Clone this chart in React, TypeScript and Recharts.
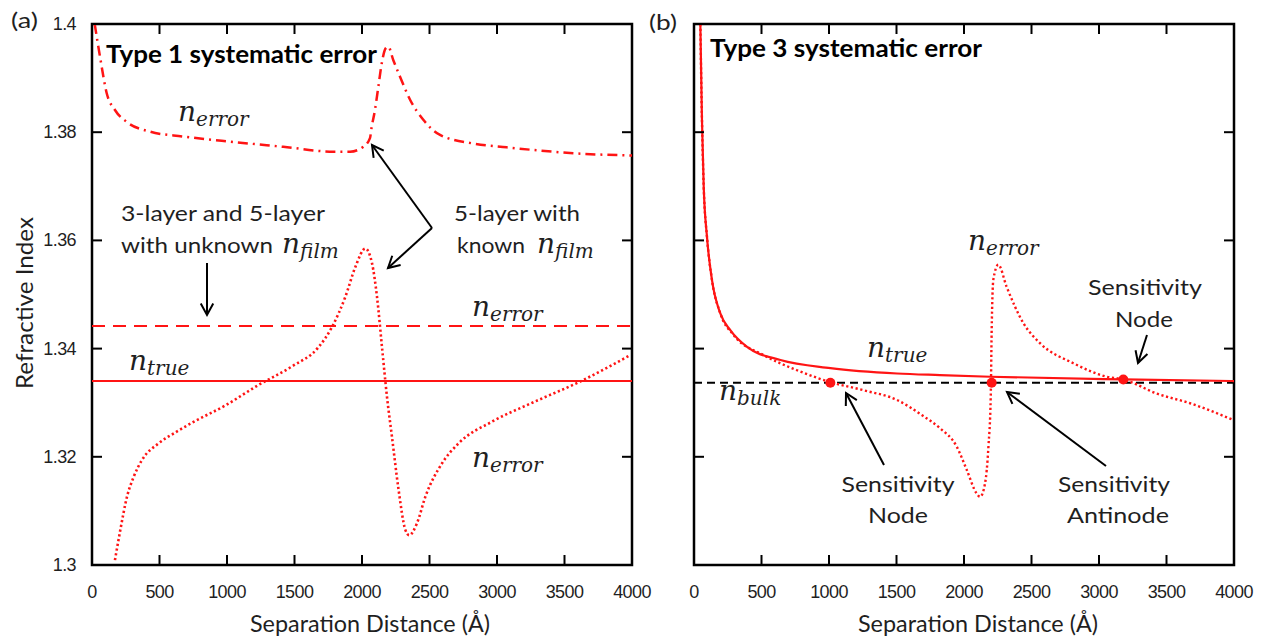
import React from "react";
import { LineChart, Line, XAxis, YAxis, ReferenceArea } from "recharts";

const X_TICKS = [0, 500, 1000, 1500, 2000, 2500, 3000, 3500, 4000];
const X_TICK_LABELS = ["0", "500", "1000", "1500", "2000", "2500", "3000", "3500", "4000"];
const Y_TICKS = [1.3, 1.32, 1.34, 1.36, 1.38, 1.4];
const Y_TICK_LABELS = ["1.3", "1.32", "1.34", "1.36", "1.38", "1.4"];

// panel (a): Type 1 systematic error
const aTrue = [[0, 1.334], [4000, 1.334]];
const aErrorUnknownFilm = [[0, 1.3442], [4000, 1.3442]];
const aErrorKnownFilmTop = [
  [20, 1.4], [59, 1.394], [109, 1.3872], [170, 1.3841], [257, 1.3819], [430, 1.3801],
  [676, 1.3792], [1047, 1.3782], [1417, 1.3773], [1788, 1.3764], [1911, 1.3764],
  [2010, 1.3773], [2059, 1.3789], [2072, 1.381], [2096, 1.3841], [2121, 1.3884],
  [2146, 1.3927], [2175, 1.3955], [2195, 1.3958], [2232, 1.3933], [2281, 1.3903],
  [2356, 1.386], [2454, 1.3823], [2578, 1.3795], [2825, 1.3779], [3072, 1.3772],
  [3319, 1.3766], [3565, 1.3761], [4000, 1.3757]
];
const aErrorKnownFilm = [
  [170, 1.3009], [210, 1.3065], [259, 1.3126], [309, 1.3163], [370, 1.3194], [494, 1.3225],
  [617, 1.3245], [741, 1.3263], [988, 1.3295], [1235, 1.3333], [1481, 1.3367], [1679, 1.3403],
  [1778, 1.344], [1877, 1.3496], [1951, 1.3551], [2025, 1.3585], [2074, 1.3558], [2111, 1.3496],
  [2148, 1.3403], [2185, 1.3311], [2222, 1.3237], [2271, 1.3139], [2321, 1.3065], [2350, 1.3055],
  [2407, 1.3077], [2469, 1.3126], [2593, 1.3188], [2716, 1.3225], [2963, 1.3265], [3244, 1.3298],
  [3615, 1.3339], [3973, 1.3386]
];

// panel (b): Type 3 systematic error
const bTrue = [
  [47, 1.4], [59, 1.3823], [72, 1.3699], [96, 1.3607], [133, 1.3527], [195, 1.3465],
  [269, 1.3434], [393, 1.3403], [640, 1.3379], [1010, 1.3364], [1504, 1.3354], [1822, 1.3351],
  [2195, 1.3348], [3180, 1.3343], [4000, 1.334]
];
const bBulk = [[0, 1.3337], [4000, 1.3337]];
const bError = [
  [47, 1.4], [59, 1.3823], [72, 1.3699], [96, 1.3607], [133, 1.3527], [195, 1.3465],
  [294, 1.3425], [516, 1.3388], [763, 1.336], [1010, 1.3338], [1257, 1.3323], [1504, 1.3305],
  [1700, 1.3275], [1822, 1.3253], [1946, 1.3219], [2020, 1.3176], [2094, 1.3132], [2119, 1.3126],
  [2156, 1.3151], [2181, 1.3219], [2198, 1.3311], [2205, 1.3434], [2217, 1.3527], [2254, 1.3555],
  [2316, 1.3514], [2440, 1.3447], [2563, 1.341], [2810, 1.3373], [3057, 1.3348], [3180, 1.3343],
  [3427, 1.3317], [3674, 1.3299], [3995, 1.3268]
];
const bNodes = [[1010, 1.3337], [2205, 1.3337], [3180, 1.3343]];

const pts = (a: number[][]) => a.map(([x, y]) => ({ x, y }));

const RED = "#ff1414";
const INK = "#1f1f1f";
const PLOT_W = 540;
const PLOT_H = 541;
const TICK_LEN = 10;
const SANS = "'Liberation Sans', Arial, sans-serif";
const TEXT = "Lato, 'Open Sans', sans-serif";
const MATH = "'DejaVu Serif', serif";

function xTick(props: any) {
  const { x, y, payload } = props;
  const label = X_TICK_LABELS[X_TICKS.indexOf(payload.value)];
  return (
    <g>
      <line x1={x} x2={x} y1={y} y2={y - TICK_LEN} stroke="#000" strokeWidth={2} />
      <line x1={x} x2={x} y1={y - PLOT_H} y2={y - PLOT_H + TICK_LEN} stroke="#000" strokeWidth={2} />
      <text x={x} y={y + 33} textAnchor="middle" fontFamily={SANS} fontSize={18} fill={INK} letterSpacing={-0.6}>
        {label}
      </text>
    </g>
  );
}

const makeYTick = (showLabel: boolean) => (props: any) => {
  const { x, y, payload } = props;
  const label = Y_TICK_LABELS[Y_TICKS.indexOf(payload.value)];
  return (
    <g>
      <line x1={x} x2={x + TICK_LEN} y1={y} y2={y} stroke="#000" strokeWidth={2} />
      <line x1={x + PLOT_W} x2={x + PLOT_W - TICK_LEN} y1={y} y2={y} stroke="#000" strokeWidth={2} />
      {showLabel && (
        <text x={x - 16} y={y + 6} textAnchor="end" fontFamily={SANS} fontSize={18} fill={INK} letterSpacing={-0.6}>
          {label}
        </text>
      )}
    </g>
  );
};

function MathN({ x, y, sub }: { x: number; y: number; sub: string }) {
  return (
    <text x={x} y={y} fontFamily={MATH} fontStyle="italic" fill={INK}>
      <tspan fontSize={28}>n</tspan>
      <tspan fontSize={20} dy={5}>{sub}</tspan>
    </text>
  );
}

function Arrow({ x1, y1, x2, y2 }: { x1: number; y1: number; x2: number; y2: number }) {
  const a = Math.atan2(y2 - y1, x2 - x1);
  const h = 13;
  const s = 0.5;
  const l = [x2 - h * Math.cos(a - s), y2 - h * Math.sin(a - s)];
  const r = [x2 - h * Math.cos(a + s), y2 - h * Math.sin(a + s)];
  return (
    <g stroke="#000" strokeWidth={2} fill="none">
      <line x1={x1} y1={y1} x2={x2} y2={y2} />
      <polyline points={`${l[0]},${l[1]} ${x2},${y2} ${r[0]},${r[1]}`} />
    </g>
  );
}

function Word({ x, y, w, children, anchor = "start", size = 22, bold = false }: any) {
  return (
    <text
      x={x}
      y={y}
      textAnchor={anchor}
      fontFamily={TEXT}
      fontSize={size}
      fontWeight={bold ? 700 : 400}
      fill={bold ? "#000" : INK}
      textLength={w}
      lengthAdjust="spacingAndGlyphs"
    >
      {children}
    </text>
  );
}

const xAxisProps = {
  type: "number" as const,
  dataKey: "x",
  domain: [0, 4000],
  ticks: X_TICKS,
  interval: 0 as const,
  allowDataOverflow: true,
  axisLine: false,
  tickLine: false,
  tickSize: 0,
  tickMargin: 0,
  height: 76,
  tick: xTick
};

const yAxisBase = {
  type: "number" as const,
  domain: [1.3, 1.4],
  ticks: Y_TICKS,
  interval: 0 as const,
  allowDataOverflow: true,
  axisLine: false,
  tickLine: false,
  tickSize: 0,
  tickMargin: 0
};

export default function App() {
  return (
    <div style={{ position: "absolute", left: 0, top: 0, width: 1267, height: 641, background: "#fff" }}>
      <div style={{ position: "absolute", left: 0, top: 0 }}>
        <LineChart width={660} height={641} margin={{ top: 24, right: 28, bottom: 0, left: 0 }}>
          <XAxis {...xAxisProps} />
          <YAxis {...yAxisBase} width={92} tick={makeYTick(true)} />
          <ReferenceArea x1={0} x2={4000} y1={1.3} y2={1.4} fill="none" fillOpacity={0} stroke="#000" strokeWidth={2.5} />
          <Line data={pts(aTrue)} dataKey="y" type="linear" stroke={RED} strokeWidth={2} dot={false} isAnimationActive={false} />
          <Line data={pts(aErrorUnknownFilm)} dataKey="y" type="linear" stroke={RED} strokeWidth={2} strokeDasharray="13 8" dot={false} isAnimationActive={false} />
          <Line data={pts(aErrorKnownFilmTop)} dataKey="y" type="monotone" stroke={RED} strokeWidth={2.5} strokeDasharray="10 5 2 5" dot={false} isAnimationActive={false} />
          <Line data={pts(aErrorKnownFilm)} dataKey="y" type="monotone" stroke={RED} strokeWidth={2.6} strokeDasharray="2.2 2.6" dot={false} isAnimationActive={false} />
        </LineChart>
      </div>
      <div style={{ position: "absolute", left: 640, top: 0 }}>
        <LineChart width={627} height={641} margin={{ top: 24, right: 33, bottom: 0, left: 0 }}>
          <XAxis {...xAxisProps} />
          <YAxis {...yAxisBase} width={54} tick={makeYTick(false)} />
          <ReferenceArea x1={0} x2={4000} y1={1.3} y2={1.4} fill="none" fillOpacity={0} stroke="#000" strokeWidth={2.5} />
          <Line data={pts(bBulk)} dataKey="y" type="linear" stroke="#000" strokeWidth={2} strokeDasharray="8 5" dot={false} isAnimationActive={false} />
          <Line data={pts(bError)} dataKey="y" type="monotone" stroke={RED} strokeWidth={2.4} strokeDasharray="2.2 2.6" dot={false} isAnimationActive={false} />
          <Line data={pts(bTrue)} dataKey="y" type="monotone" stroke={RED} strokeWidth={2.2} dot={false} isAnimationActive={false} />
          <Line data={pts(bNodes)} dataKey="y" stroke="none" dot={{ r: 5, fill: RED, stroke: RED, strokeWidth: 0 }} isAnimationActive={false} />
        </LineChart>
      </div>

      <svg width={1267} height={641} style={{ position: "absolute", left: 0, top: 0, pointerEvents: "none" }}>
        <Word x={11} y={28} w={27} size={22}>(a)</Word>
        <Word x={649} y={30} w={28} size={22}>(b)</Word>

        <text x={0} y={0} transform="translate(33,303) rotate(-90)" textAnchor="middle" fontFamily={TEXT} fontSize={24} fill={INK} textLength={172} lengthAdjust="spacingAndGlyphs">
          Refractive Index
        </text>
        <Word x={370} y={632} w={240} anchor="middle" size={23}>Separation Distance (Å)</Word>
        <Word x={978} y={632} w={240} anchor="middle" size={23}>Separation Distance (Å)</Word>

        {/* panel (a) annotations */}
        <Word x={106} y={63} w={271} size={24} bold>Type 1 systematic error</Word>
        <MathN x={178} y={121} sub="error" />
        <Word x={121} y={221} w={204}>3-layer and 5-layer</Word>
        <Word x={121} y={253} w={152}>with unknown</Word>
        <MathN x={282} y={253} sub="film" />
        <Word x={454} y={221} w={126}>5-layer with</Word>
        <Word x={457} y={253} w={68}>known</Word>
        <MathN x={537} y={253} sub="film" />
        <Arrow x1={207} y1={263} x2={207} y2={315} />
        <Arrow x1={432} y1={228} x2={372} y2={145} />
        <Arrow x1={432} y1={228} x2={388} y2={268} />
        <MathN x={472} y={316} sub="error" />
        <MathN x={129} y={370} sub="true" />
        <MathN x={472} y={467} sub="error" />

        {/* panel (b) annotations */}
        <Word x={710} y={57} w={272} size={24} bold>Type 3 systematic error</Word>
        <MathN x={968} y={250} sub="error" />
        <MathN x={867} y={357} sub="true" />
        <MathN x={719} y={400} sub="bulk" />
        <Word x={1145} y={295} w={114} anchor="middle">Sensitivity</Word>
        <Word x={1144} y={327} w={58} anchor="middle">Node</Word>
        <Arrow x1={1147} y1={335} x2={1138} y2={363} />
        <Word x={898} y={492} w={113} anchor="middle">Sensitivity</Word>
        <Word x={898} y={523} w={60} anchor="middle">Node</Word>
        <Arrow x1={884} y1={465} x2={846} y2={393} />
        <Word x={1114} y={492} w={112} anchor="middle">Sensitivity</Word>
        <Word x={1118} y={523} w={102} anchor="middle">Antinode</Word>
        <Arrow x1={1106} y1={466} x2={1007} y2={392} />
      </svg>
    </div>
  );
}
